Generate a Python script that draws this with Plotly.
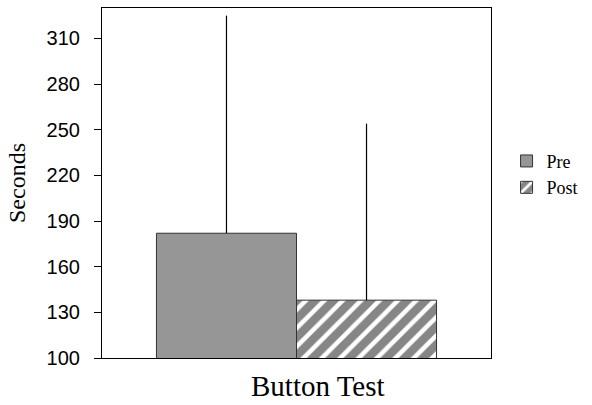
import plotly.graph_objects as go

category = ["Button Test"]
series_names = ["Pre", "Post"]
means = [182, 138]
errors_plus = [143, 116]
y_ticks = [100, 130, 160, 190, 220, 250, 280, 310]

fig = go.Figure()
fig.add_trace(go.Bar(
    x=category, y=[means[0]], name=series_names[0],
    marker=dict(color="#969696", line=dict(color="#333333", width=1)),
    error_y=dict(type="data", array=[errors_plus[0]], symmetric=False,
                 arrayminus=[0], color="black", thickness=1.2, width=0),
))
fig.add_trace(go.Bar(
    x=category, y=[means[1]], name=series_names[1],
    marker=dict(color="#868686", line=dict(color="#333333", width=1),
                pattern=dict(shape="/", fgcolor="white", bgcolor="#868686",
                             size=13, solidity=0.35, fillmode="replace")),
    error_y=dict(type="data", array=[errors_plus[1]], symmetric=False,
                 arrayminus=[0], color="black", thickness=1.2, width=0),
))

fig.add_annotation(
    text=category[0], x=category[0], xref="x", y=0, yref="paper",
    xanchor="center", yanchor="top", xshift=21, yshift=-10, showarrow=False,
    font=dict(family="Liberation Serif", size=29, color="black"),
)

fig.update_layout(
    width=592, height=405,
    margin=dict(l=102, r=99, t=8, b=47),
    paper_bgcolor="white", plot_bgcolor="white",
    barmode="group", bargap=0.28, bargroupgap=0,
    showlegend=True,
    legend=dict(x=1.04, xanchor="left", y=0.615, yanchor="top",
                itemwidth=30,
                font=dict(family="Liberation Serif", size=18, color="black"),
                bgcolor="rgba(0,0,0,0)"),
    font=dict(family="Liberation Sans", color="black"),
)
fig.update_xaxes(
    showline=True, linecolor="black", linewidth=1.2, mirror=True,
    ticks="", showgrid=False, showticklabels=False, automargin=False,
)
fig.update_yaxes(
    range=[100, 330], tickvals=y_ticks, automargin=False,
    showline=True, linecolor="black", linewidth=1.2, mirror=True,
    ticks="outside", ticklen=7, tickcolor="black", tickwidth=1,
    showgrid=False, zeroline=False, ticklabelstandoff=10,
    tickfont=dict(family="Liberation Sans", size=20, color="black"),
    title=dict(text="Seconds", font=dict(family="Liberation Serif", size=24, color="black"),
               standoff=14),
)

fig.write_html("out.html")
